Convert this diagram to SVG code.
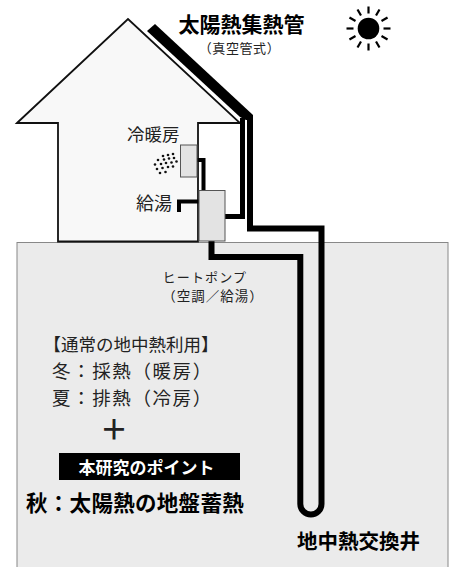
<svg xmlns="http://www.w3.org/2000/svg" width="450" height="567" viewBox="0 0 450 567">
  <style>
    text { font-family: "Noto Sans CJK JP", "Noto Sans", sans-serif; fill: #222; }
    .bold { font-weight: bold; fill: #000; }
    .unit { fill: #e3e3e3; stroke: #555; stroke-width: 1; }
    .pipe { fill: none; stroke: #000; stroke-linejoin: miter; stroke-linecap: butt; }
    .ray { stroke: #000; stroke-width: 2.2; }
    .dot { fill: #111; }
  </style>

  <rect width="450" height="567" fill="#fff"/>

  <!-- ground block -->
  <g id="ground">
    <rect x="17" y="242.5" width="431" height="330" fill="#ebebeb" stroke="#888" stroke-width="1"/>
  </g>

  <!-- house outline -->
  <g id="house">
    <polygon points="17,123 128,19 240,123 198,123 198,241.5 58,241.5 58,123" fill="#f8f8f8" stroke="#111" stroke-width="1.8" stroke-linejoin="miter"/>
  </g>

  <!-- vacuum-tube solar collector along the roof -->
  <g id="collector">
    <polygon points="147,31 155,24 253,115 253,120 246,120 240,117" fill="#000"/>
  </g>

  <!-- sun -->
  <g id="sun">
    <circle cx="368.5" cy="28.5" r="10.8" fill="#000"/>
    <g transform="translate(368.5,28.5)">
      <line class="ray" x1="0" y1="-15" x2="0" y2="-22"/>
      <line class="ray" x1="0" y1="-15" x2="0" y2="-22" transform="rotate(30)"/>
      <line class="ray" x1="0" y1="-15" x2="0" y2="-22" transform="rotate(60)"/>
      <line class="ray" x1="0" y1="-15" x2="0" y2="-22" transform="rotate(90)"/>
      <line class="ray" x1="0" y1="-15" x2="0" y2="-22" transform="rotate(120)"/>
      <line class="ray" x1="0" y1="-15" x2="0" y2="-22" transform="rotate(150)"/>
      <line class="ray" x1="0" y1="-15" x2="0" y2="-22" transform="rotate(180)"/>
      <line class="ray" x1="0" y1="-15" x2="0" y2="-22" transform="rotate(210)"/>
      <line class="ray" x1="0" y1="-15" x2="0" y2="-22" transform="rotate(240)"/>
      <line class="ray" x1="0" y1="-15" x2="0" y2="-22" transform="rotate(270)"/>
      <line class="ray" x1="0" y1="-15" x2="0" y2="-22" transform="rotate(300)"/>
      <line class="ray" x1="0" y1="-15" x2="0" y2="-22" transform="rotate(330)"/>
    </g>
  </g>

  <!-- piping -->
  <g id="connectors">
    <!-- collector return to heat pump -->
    <path class="pipe" stroke-width="5" d="M224,216.5 H242.5 V118"/>
    <!-- collector supply and ground heat exchanger U-tube -->
    <path class="pipe" stroke-width="6" d="M250,118 V228.5 H321.5 V504 A10.6,10.6 0 0 1 300.3,504 V257 H211.5 V240"/>
    <!-- heat pump to air-conditioning unit -->
    <path class="pipe" stroke-width="4" d="M196,160 H203.5 V191"/>
    <!-- hot water outlet -->
    <path class="pipe" stroke-width="4" d="M200,201.5 H179 V212"/>
  </g>

  <!-- air-conditioning indoor unit with air dots -->
  <g id="unit-ac">
    <rect class="unit" x="180.5" y="145" width="16.5" height="32"/>
    <g>
      <circle class="dot" cx="163" cy="156" r="1.3"/>
      <circle class="dot" cx="168" cy="155" r="1.3"/>
      <circle class="dot" cx="173" cy="154" r="1.3"/>
      <circle class="dot" cx="158" cy="160" r="1.3"/>
      <circle class="dot" cx="164" cy="159.5" r="1.3"/>
      <circle class="dot" cx="169" cy="158.5" r="1.3"/>
      <circle class="dot" cx="174" cy="158" r="1.3"/>
      <circle class="dot" cx="155" cy="164.5" r="1.3"/>
      <circle class="dot" cx="161" cy="164" r="1.3"/>
      <circle class="dot" cx="166" cy="163" r="1.3"/>
      <circle class="dot" cx="171.5" cy="162.5" r="1.3"/>
      <circle class="dot" cx="176.5" cy="161.5" r="1.3"/>
      <circle class="dot" cx="157" cy="169" r="1.3"/>
      <circle class="dot" cx="162.5" cy="168" r="1.3"/>
      <circle class="dot" cx="168" cy="167" r="1.3"/>
      <circle class="dot" cx="173" cy="166.5" r="1.3"/>
      <circle class="dot" cx="160" cy="173" r="1.3"/>
      <circle class="dot" cx="165.5" cy="172" r="1.3"/>
    </g>
  </g>

  <!-- heat pump unit -->
  <g id="unit-hp">
    <rect class="unit" x="199" y="190.5" width="26" height="50.5"/>
  </g>

  <!-- labels -->
  <g id="label-collector">
    <text class="bold" x="178.5" y="31.5" font-size="21">太陽熱集熱管</text>
    <text x="239.5" y="52.5" font-size="13" letter-spacing="0.6" text-anchor="middle" fill="#333">（真空管式）</text>
  </g>
  <g id="label-ac">
    <text x="127" y="141" font-size="17.5" fill="#333">冷暖房</text>
  </g>
  <g id="label-hotwater">
    <text x="136" y="210" font-size="18" fill="#333">給湯</text>
  </g>
  <g id="label-heatpump">
    <text x="162.5" y="281.5" font-size="13" letter-spacing="1.2" fill="#555">ヒートポンプ</text>
    <text x="213" y="300.5" font-size="13.5" letter-spacing="1" text-anchor="middle" fill="#555">（空調／給湯）</text>
  </g>
  <g id="label-usage">
    <text x="131" y="351" font-size="17.5" text-anchor="middle" fill="#333">【通常の地中熱利用】</text>
    <text x="52" y="377.5" font-size="18.5" letter-spacing="1.6" fill="#333">冬：採熱（暖房）</text>
    <text x="52" y="404.5" font-size="18.5" letter-spacing="1.6" fill="#333">夏：排熱（冷房）</text>
    <text x="114" y="440" font-size="28" font-weight="bold" text-anchor="middle" fill="#000">＋</text>
  </g>
  <g id="label-point">
    <rect x="59" y="453" width="181" height="27" fill="#000"/>
    <text x="146.5" y="474" font-size="17" font-weight="bold" text-anchor="middle" style="fill:#fff">本研究のポイント</text>
    <text class="bold" x="26" y="511" font-size="21.5" letter-spacing="0.3">秋：太陽熱の地盤蓄熱</text>
  </g>
  <g id="label-well">
    <text class="bold" x="297" y="549" font-size="20.5">地中熱交換井</text>
  </g>
</svg>
